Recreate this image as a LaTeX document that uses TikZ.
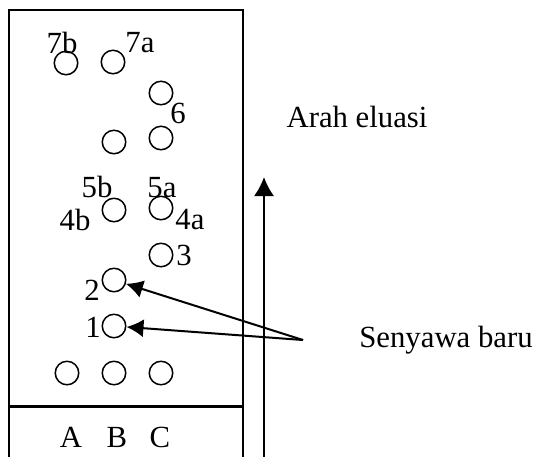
\documentclass[tikz,border=0pt]{standalone}
\usepackage{fontspec}
\setmainfont{Liberation Serif}
\usetikzlibrary{arrows.meta}
\begin{document}
\begin{tikzpicture}[x=0.4pt, y=-0.4pt, font=\fontsize{12.3}{14}\selectfont,
	spot/.style={circle, draw, line width=0.6pt, minimum size=9.4pt, inner sep=0pt},
	lbl/.style={inner sep=0pt}]

	\path[use as bounding box] (0,0) rectangle (537,456);
	\clip (0,0) rectangle (537,456);

	% plate
	\draw[line width=0.7pt] (9,480) -- (9,10) -- (243,10) -- (243,480);
	\draw[line width=1.2pt] (9,406) -- (243,406);

	% spots
	\node (s7b) [spot] at (66,63) {};
	\node (s7a) [spot] at (113,62) {};
	\node (s6) [spot] at (161,93) {};
	\node (s5b) [spot] at (114,142) {};
	\node (s5a) [spot] at (161,138) {};
	\node (s4b) [spot] at (114,210) {};
	\node (s4a) [spot] at (161,208) {};
	\node (s3) [spot] at (161,255) {};
	\node (s2) [spot] at (114,280) {};
	\node (s1) [spot] at (114,326) {};
	\node (sA) [spot] at (67,373) {};
	\node (sB) [spot] at (114,373) {};
	\node (sC) [spot] at (161,373) {};

	% spot labels
	\node (l7b) [lbl] at (62,43) {7b};
	\node (l7a) [lbl] at (140,43) {7a};
	\node (l6) [lbl] at (178,113) {6};
	\node (l5b) [lbl] at (97,187) {5b};
	\node (l5a) [lbl] at (162,188) {5a};
	\node (l4b) [lbl] at (75,220) {4b};
	\node (l4a) [lbl] at (190,220) {4a};
	\node (l3) [lbl] at (184,255) {3};
	\node (l2) [lbl] at (92,290) {2};
	\node (l1) [lbl] at (93,327) {1};

	% lanes
	\node (lA) [lbl] at (71,437) {A};
	\node (lB) [lbl] at (117,437) {B};
	\node (lC) [lbl] at (160,437) {C};

	% elution direction
	\coordinate (ebase) at (264,480);
	\coordinate (etip) at (264,177);
	\draw[line width=0.7pt, -{Latex[length=7.6pt, width=8pt]}] (ebase) -- (etip);
	\node (elu) [lbl] at (357,117) {Arah eluasi};

	% new compounds
	\coordinate (src) at (303,340);
	\node (new) [lbl] at (446,340) {Senyawa baru};
	\path[line width=0.8pt, -{Latex[length=6.8pt, width=7.2pt]}]
	(src) edge (s2)
	(src) edge (s1);

\end{tikzpicture}
\end{document}
